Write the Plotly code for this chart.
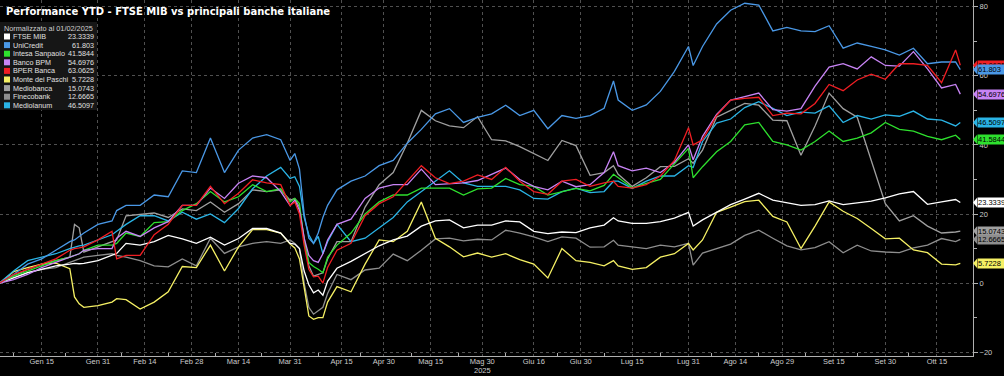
import plotly.graph_objects as go

# ---------------- data ----------------
dates = [
    "2025-01-02", "2025-01-07", "2025-01-10", "2025-01-15", "2025-01-20", "2025-01-23", "2025-01-24", "2025-01-27", "2025-01-28", "2025-01-31",
    "2025-02-05", "2025-02-06", "2025-02-10", "2025-02-13", "2025-02-18", "2025-02-21", "2025-02-26", "2025-03-03", "2025-03-06", "2025-03-11",
    "2025-03-14", "2025-03-19", "2025-03-24", "2025-03-27", "2025-03-31", "2025-04-01", "2025-04-02", "2025-04-03", "2025-04-04", "2025-04-07",
    "2025-04-08", "2025-04-09", "2025-04-10", "2025-04-14", "2025-04-17", "2025-04-24", "2025-04-29", "2025-05-05", "2025-05-08", "2025-05-13",
    "2025-05-16", "2025-05-21", "2025-05-26", "2025-05-29", "2025-06-03", "2025-06-06", "2025-06-11", "2025-06-16", "2025-06-19", "2025-06-24",
    "2025-06-27", "2025-07-02", "2025-07-07", "2025-07-09", "2025-07-10", "2025-07-15", "2025-07-18", "2025-07-23", "2025-07-28", "2025-07-31",
    "2025-08-01", "2025-08-05", "2025-08-08", "2025-08-13", "2025-08-19", "2025-08-22", "2025-08-27", "2025-09-01", "2025-09-04", "2025-09-09",
    "2025-09-12", "2025-09-17", "2025-09-22", "2025-09-25", "2025-09-30", "2025-10-03", "2025-10-08", "2025-10-13", "2025-10-16", "2025-10-21",
    "2025-10-22",
]

ftse_mib = [
    0, 1.5, 3, 4, 5, 5.5, 5.7, 5.6, 5.7, 6.5,
    8, 8.6, 11.5, 11, 12, 13.8, 12.8, 11.5, 13.3, 11,
    12.9, 15.8, 15.8, 14.5, 11.5, 11.3, 10, 3.5, -0.5, -2.8,
    -2, -3.5, 0.5, 4.3, 6.3, 8.6, 10.8, 12.5, 13.6, 16.5,
    18, 18.3, 16, 16.8, 16.8, 18, 17.7, 15, 14.3, 14.8,
    14.6, 16, 16.8, 18.9, 18, 17.3, 17.3, 17.8, 18.8, 20.5,
    16.5, 18.3, 20.5, 22.7, 24.3, 26, 24, 23.2, 22.5, 22.7,
    23.8, 22.7, 23.3, 23.7, 24.7, 25.8, 26.5, 22.8, 23.5, 24.2,
    23.3339,
]
unicredit = [
    0, 2.5, 5.5, 7, 9.5, 12, 12.5, 13.5, 14.5, 17,
    18, 21, 22.5, 22.5, 25.5, 25, 32.5, 32, 42, 32,
    38.5, 42, 43, 41.5, 35.5, 37.5, 33, 20, 13, 11.5,
    14.5, 19, 22.5, 27, 29.5, 31, 34, 35.5, 40.5, 44.5,
    49, 50.5, 46.5, 48, 49, 51.5, 48.5, 50, 44.7, 48.5,
    47.7, 48.5, 50.6, 58.5, 53, 50, 51.6, 55.5, 61.3, 68.5,
    63, 68.5, 75, 79, 81, 80.5, 73, 74, 73, 72.8,
    74.5, 68, 69.5, 68.5, 67.5, 66, 68, 63.5, 64, 64,
    61.803,
]
intesa_sanpaolo = [
    0, 2, 3.5, 5, 6.5, 7.5, 8, 8.5, 9.5, 11,
    11, 11.5, 14.5, 13.5, 17.5, 17.8, 21, 23, 26.5, 23.5,
    25, 28.5, 26.5, 27.3, 23.5, 24.5, 23, 12, 6, 4.8,
    4, 3, 7.5, 11, 14.5, 20, 23.5, 25.5, 25.5, 27.5,
    27.5, 27.5, 25.5, 27.3, 27.5, 30.3, 28.5, 28, 25.5, 26.5,
    27.4, 26.7, 28.3, 31.5, 30.5, 27.6, 28.9, 30, 34.5, 39,
    30.5, 33.7, 38, 41, 45.8, 46.5, 41, 40, 38.5, 41,
    44, 41, 42, 43.5, 46.5, 44.5, 44, 42.5, 41.5, 42.8,
    41.5844,
]
banco_bpm = [
    0, 1, 2.5, 4.5, 6, 7.5, 8, 8.5, 9.5, 10,
    10, 13, 15, 13.5, 16, 17.8, 22.5, 22.5, 27.5, 24.5,
    28.9, 31, 30.5, 26.5, 22.5, 24, 21, 13, 8, 6.5,
    6, 8.5, 12.5, 17, 18.5, 24.5, 27.5, 28.5, 28.5, 33,
    28.5, 28.7, 29, 29.7, 31.5, 33.3, 30, 28, 27, 29.5,
    27.9, 28.5, 32, 38, 34, 32.5, 33.3, 32, 35, 40,
    35.7, 42.5, 48.8, 53, 54, 55, 50.2, 49.8, 50.5, 57,
    62.5, 63.5, 62, 65.5, 63, 62.8, 67, 62, 56.5, 57.5,
    54.6976,
]
bper_banca = [
    0, 2.5, 4, 5.5, 7, 9.5, 10, 10.2, 10.5, 12.5,
    15, 7, 8, 8, 14, 17, 22.5, 22.5, 28, 23,
    26, 29.9, 29, 28.5, 22.5, 23.5, 20, 11, 4, 1.8,
    2, 0, 4.5, 9.5, 11.5, 19.5, 23, 25, 29.5, 34,
    30.5, 28.8, 29.5, 31.3, 30, 33.5, 29.5, 26.5, 25.7, 29.5,
    30, 28, 29, 29.5, 28, 27.5, 28.5, 31, 35.5, 45,
    40, 41.5, 48.5, 53, 53.5, 53.8, 48.5, 49.2, 49, 52,
    57.5, 55.7, 58.8, 60.5, 59, 63.5, 63.5, 63, 58, 67.5,
    63.0625,
]
monte_dei_paschi = [
    0, 3.3, 4.5, 5.5, 5.8, 4.2, -4, -6, -7, -6.5,
    -5.5, -4.5, -4.8, -7.5, -5.5, -2.5, 4.8, 4.5, 11, 3.5,
    10.5, 15.5, 15.5, 14.5, 11.3, 10.2, 7, -1, -9.5, -10.5,
    -10, -10, -5.5, -1, -2.5, 5.5, 12.5, 12, 15, 23.5,
    13, 10.5, 7.6, 8.7, 7.5, 8.5, 6.8, 5.5, 1.5, 10,
    6.5, 6, 5, 6.5, 5, 4, 4.5, 7.5, 8.5, 11.5,
    9.6, 12.5, 20.5, 22, 23.6, 24, 19.3, 17.7, 10, 16.5,
    23.5, 20.8, 18.7, 15.8, 12.8, 13, 9.6, 8.8, 5.5, 5.3,
    5.7228,
]
mediobanca = [
    0, 2, 4, 5.5, 6.5, 7.5, 17, 16, 9, 10.5,
    12, 12.5, 19.5, 19.8, 20.3, 19, 21.5, 21, 23.5, 20.5,
    23, 27, 26.5, 27, 24, 24.5, 22, 13, 5, 2,
    2.5, 3, 7, 12, 12, 22, 28.5, 32, 40.5, 50,
    47, 45.5, 45, 48.2, 41.5, 41.2, 39.5, 37.5, 35.5, 41.3,
    39.8, 31.2, 32, 34, 31.5, 28, 30.5, 33.7, 33.8, 36,
    34.7, 38.5, 48, 50, 52, 51.5, 47.2, 47, 37, 45.5,
    55, 50.5, 48, 35.5, 23, 18, 19.5, 16.5, 14.5, 14.8,
    15.0743,
]
finecobank = [
    0, 1.5, 3, 4, 4.5, 6, 6.5, 7, 7.5, 8,
    8.5, 8, 7.5, 6.5, 5, 4.7, 7, 5, 13, 8.6,
    10.5, 11.5, 12, 11.5, 12.5, 11.5, 10, 0, -7, -9,
    -8, -7, -3, 2.5, 1, 3.8, 4.3, 8.4, 6.5, 9.5,
    12.8, 13, 12.2, 12.7, 12.5, 15.3, 14.5, 13.4, 12, 13.4,
    13, 10.4, 10.5, 12.4, 11, 10.5, 10, 11, 10.5, 11.5,
    5.2, 8.7, 10, 11.3, 13.8, 15.3, 13, 10.8, 9.6, 10.3,
    12, 8.8, 11, 9.3, 9, 8.8, 10.2, 11, 12.9, 12,
    12.6665,
]
mediolanum = [
    0, 3.5, 6.5, 7.5, 8.5, 10, 10.5, 10.8, 11, 12.5,
    14, 15, 17, 19.5, 19.5, 18, 20.5, 18.5, 20, 17.5,
    21.6, 27.3, 31, 33.5, 30.3, 30.8, 28, 19, 14, 11.5,
    13.5, 8.5, 12, 17, 12, 13, 16, 19, 23.5, 26.5,
    29.7, 32.5, 29, 28, 28, 28, 27, 24.5, 24.3, 26.5,
    27.5, 26.2, 26.5, 29.5, 29.5, 27.4, 29.5, 31, 31, 34,
    33.5, 41, 46.3, 47.5, 50.8, 52.5, 50.6, 48.5, 49.5, 49.2,
    51.3, 46.5, 48.5, 47.5, 48.7, 48.3, 49.8, 47.5, 47.2, 45.5,
    46.5097,
]

names = ["FTSE MIB", "UniCredit", "Intesa Sanpaolo", "Banco BPM", "BPER Banca",
         "Monte dei Paschi", "Mediobanca", "Finecobank", "Mediolanum"]
last_labels = ["23.3339", "61.803", "41.5844", "54.6976", "63.0625",
               "5.7228", "15.0743", "12.6665", "46.5097"]
series = [ftse_mib, unicredit, intesa_sanpaolo, banco_bpm, bper_banca,
          monte_dei_paschi, mediobanca, finecobank, mediolanum]
colors = ["#ffffff", "#4a98e6", "#2ee02e", "#c884f5", "#f01e23",
          "#f5f064", "#a0a0a0", "#8e8e8e", "#2ab4e6"]

tick_dates = ["2025-01-15", "2025-01-31", "2025-02-14", "2025-02-28", "2025-03-14", "2025-03-31",
              "2025-04-15", "2025-04-30", "2025-05-15", "2025-05-30", "2025-06-16", "2025-06-30",
              "2025-07-15", "2025-07-31", "2025-08-14", "2025-08-29", "2025-09-15", "2025-09-30",
              "2025-10-15"]
tick_labels = ["Gen 15", "Gen 31", "Feb 14", "Feb 28", "Mar 14", "Mar 31", "Apr 15", "Apr 30",
               "Mag 15", "Mag 30", "Giu 16", "Giu 30", "Lug 15", "Lug 31", "Ago 14", "Ago 29",
               "Set 15", "Set 30", "Ott 15"]
minor_dates = ["2025-01-07", "2025-01-22", "2025-02-07", "2025-02-21", "2025-03-07", "2025-03-21",
               "2025-04-08", "2025-04-23", "2025-05-09", "2025-05-23", "2025-06-06", "2025-06-23",
               "2025-07-07", "2025-07-23", "2025-08-07", "2025-08-22", "2025-09-05", "2025-09-22",
               "2025-10-07"]
holidays = ["2025-04-18", "2025-04-21", "2025-05-01", "2025-08-15"]

for s in series:
    assert len(s) == len(dates), len(s)

# ---------------- figure ----------------
W, H = 1004, 376
ML, MR, MT, MB = 0, 31, 0, 20
PW, PH = W - ML - MR, H - MT - MB
FONT = "Liberation Sans"


def px(x):
    return x / PW


def py(y):
    return 1 - y / PH


fig = go.Figure()
draw_order = [7, 6, 5, 0, 8, 2, 3, 1, 4]
for i in draw_order:
    fig.add_trace(go.Scatter(
        x=dates, y=series[i], mode="lines", name=names[i],
        line=dict(color=colors[i], width=1.3), showlegend=False, hoverinfo="skip",
    ))

shapes = []
annotations = []

# title
annotations.append(dict(
    xref="paper", yref="paper", x=px(4), y=py(11), xanchor="left", yanchor="middle",
    text="<b>Performance YTD - FTSE MIB vs principali banche italiane</b>",
    showarrow=False, font=dict(family="DejaVu Sans", size=10, color="#ffffff"),
))

# legend box
shapes.append(dict(type="rect", xref="paper", yref="paper", x0=0, x1=px(97),
                   y0=py(110), y1=py(22), fillcolor="#161616", line=dict(width=0), layer="above"))
annotations.append(dict(
    xref="paper", yref="paper", x=px(2), y=py(28.5), xanchor="left", yanchor="middle",
    text="Normalizzato al 01/02/2025", showarrow=False,
    font=dict(family=FONT, size=7.3, color="#d0d0d0"),
))
for k, (nm, val, col) in enumerate(zip(names, last_labels, colors)):
    yy = 36.5 + 8.6 * k
    shapes.append(dict(type="rect", xref="paper", yref="paper", x0=px(4), x1=px(10),
                       y0=py(yy + 3), y1=py(yy - 3), fillcolor=col, line=dict(width=0), layer="above"))
    annotations.append(dict(
        xref="paper", yref="paper", x=px(11), y=py(yy), xanchor="left", yanchor="middle",
        text=nm, showarrow=False, font=dict(family=FONT, size=7.2, color="#e0e0e0"),
    ))
    annotations.append(dict(
        xref="paper", yref="paper", x=px(96), y=py(yy), xanchor="right", yanchor="middle",
        text=val, showarrow=False, font=dict(family=FONT, size=7.2, color="#e0e0e0"),
    ))

# right value tags
tag_order = [4, 1, 3, 8, 2, 0, 6, 7, 5]
dx = 4 / PW
for i in tag_order:
    v = series[i][-1]
    shapes.append(dict(type="path", xref="paper", yref="y",
                       path=f"M 1,{v} L {1 + dx},{v + 1.35} L {1 + dx},{v - 1.35} Z",
                       fillcolor=colors[i], line=dict(width=0)))
    annotations.append(dict(
        xref="paper", yref="y", x=1 + dx, y=v, xanchor="left", yanchor="middle",
        text=last_labels[i], showarrow=False, bgcolor=colors[i], borderpad=0, width=32,
        height=9, align="left",
        font=dict(family=FONT, size=7.5, color="#000000"),
    ))

# year label
annotations.append(dict(
    xref="x", yref="paper", x="2025-05-30", y=py(370), xanchor="center", yanchor="middle",
    text="2025", showarrow=False, font=dict(family=FONT, size=7.5, color="#cccccc"),
))

fig.update_layout(
    width=W, height=H, margin=dict(l=ML, r=MR, t=MT, b=MB),
    paper_bgcolor="#000000", plot_bgcolor="#000000",
    shapes=shapes, annotations=annotations, showlegend=False,
    font=dict(family=FONT, size=7.5, color="#cccccc"),
)
fig.update_xaxes(
    type="date", range=["2025-01-02 02:30", "2025-10-24 17:00"],
    rangebreaks=[dict(bounds=["sat", "mon"]), dict(values=holidays)],
    tickmode="array", tickvals=tick_dates, ticktext=tick_labels,
    tickfont=dict(family=FONT, size=7.5, color="#cccccc"), ticklabelstandoff=-2,
    ticks="", showgrid=True, gridcolor="#505050", griddash="dot", gridwidth=1,
    showline=True, linecolor="#b0b0b0", linewidth=1, zeroline=False,
    minor=dict(tickmode="array", tickvals=minor_dates, ticks="inside", ticklen=3,
               tickcolor="#b0b0b0", showgrid=False),
)
fig.update_yaxes(
    side="right", range=[-21.1, 81.95], tickmode="array", tickvals=[-20, 0, 20, 40, 60, 80],
    tickfont=dict(family=FONT, size=7.5, color="#cccccc"),
    ticks="outside", ticklen=4, tickcolor="#b0b0b0",
    showgrid=True, gridcolor="#505050", griddash="dot", gridwidth=1,
    showline=True, linecolor="#b0b0b0", linewidth=1, zeroline=False,
    minor=dict(tickmode="array", tickvals=[-10, 10, 30, 50, 70], ticks="outside", ticklen=3,
               tickcolor="#b0b0b0", showgrid=False),
)

fig.write_html("out.html")
